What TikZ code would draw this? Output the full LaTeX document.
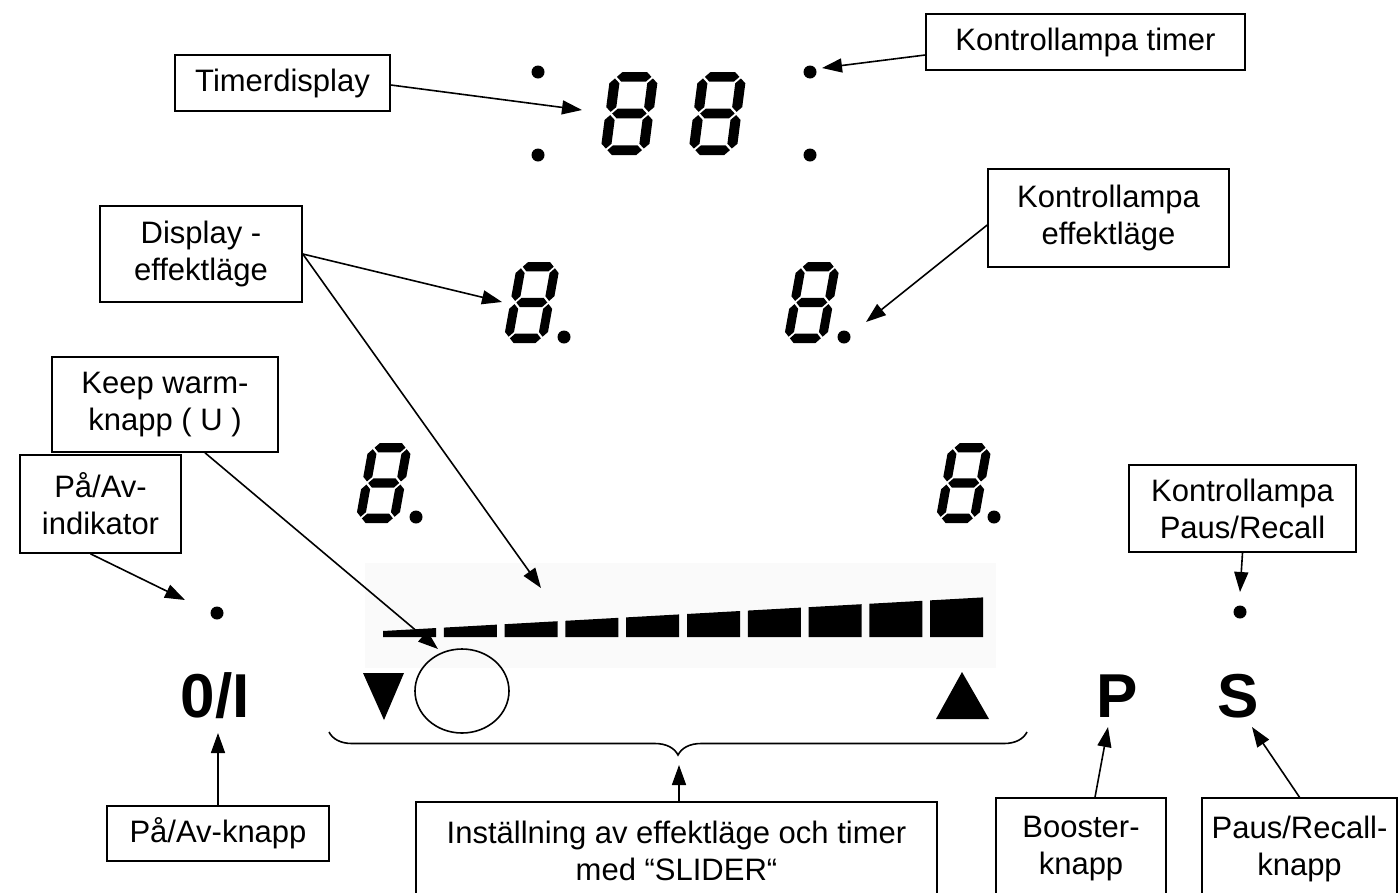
\documentclass[tikz,border=0pt]{standalone}
\usepackage{fontspec}
\setmainfont{Liberation Sans}
\usetikzlibrary{arrows.meta,decorations.pathreplacing}
\newcommand{\lblfont}{\fontsize{31}{37}\selectfont}
\newcommand{\symfont}{\fontsize{62}{62}\selectfont\bfseries}
% seven segment "8": #1 x of bottom-left, #2 y of bottom (pixels, downwards), #3 height, #4 width, #5 slant
\newcommand{\segeight}[5]{%
  \begin{scope}[shift={(#1,-#2)}, xslant=#5, xscale=#4/10, yscale=#3/18]
    \fill (1.4,16.95) -- (2.45,18) -- (7.55,18) -- (8.6,16.95) -- (7.55,15.9) -- (2.45,15.9) -- cycle
          (1.4,9) -- (2.45,10.05) -- (7.55,10.05) -- (8.6,9) -- (7.55,7.95) -- (2.45,7.95) -- cycle
          (1.4,1.05) -- (2.45,2.1) -- (7.55,2.1) -- (8.6,1.05) -- (7.55,0) -- (2.45,0) -- cycle
          (1.05,9.35) -- (2.1,10.4) -- (2.1,15.55) -- (1.05,16.6) -- (0,15.55) -- (0,10.4) -- cycle
          (1.05,1.4) -- (2.1,2.45) -- (2.1,7.6) -- (1.05,8.65) -- (0,7.6) -- (0,2.45) -- cycle
          (8.95,9.35) -- (10,10.4) -- (10,15.55) -- (8.95,16.6) -- (7.9,15.55) -- (7.9,10.4) -- cycle
          (8.95,1.4) -- (10,2.45) -- (10,7.6) -- (8.95,8.65) -- (7.9,7.6) -- (7.9,2.45) -- cycle;
  \end{scope}}
\tikzset{
  lbox/.style={draw, line width=1.6pt, align=center, font=\lblfont, inner sep=0pt},
  conn/.style={line width=1.6pt, -{Triangle[length=20pt,width=14pt]}},
  lamp/.style={circle, fill, inner sep=0pt, minimum size=13pt},
  sym/.style={font=\symfont, inner sep=0pt},
}
\begin{document}
\begin{tikzpicture}[x=1pt,y=1pt]
\clip (0,0) rectangle (1399,-892);
\fill[white] (0,0) rectangle (1399,-892);

% slider background
\fill[black!2] (365,-563) rectangle (996,-668);
\foreach \i in {0,...,9}{
  \pgfmathsetmacro{\xa}{383+\i*60.8}
  \pgfmathsetmacro{\xb}{\xa+53}
  \pgfmathsetmacro{\ya}{631-(\xa-383)/607*34}
  \pgfmathsetmacro{\yb}{631-(\xb-383)/607*34}
  \fill (\xa,-637) -- (\xb,-637) -- (\xb,-\yb) -- (\xa,-\ya) -- cycle;
}

% digits
\segeight{600}{155}{83}{48}{0.13}
\segeight{688}{155}{83}{48}{0.13}
\segeight{503}{343}{81}{43}{0.18}
\segeight{783}{343}{81}{43}{0.18}
\segeight{355}{523}{80}{43}{0.18}
\segeight{935}{523}{80}{43}{0.18}
\node[lamp] (dp1) at (564,-337) {};
\node[lamp] (dp2) at (844,-337) {};
\node[lamp] (dp3) at (416,-517) {};
\node[lamp] (dp4) at (994,-517) {};

% timer colon lamps
\node[lamp] (t1) at (538,-72) {};
\node[lamp] (t2) at (538,-155) {};
\node[lamp] (t3) at (810,-72) {};
\node[lamp] (t4) at (810,-155) {};

% other lamps
\node[lamp] (onlamp) at (217,-613) {};
\node[lamp] (pslamp) at (1240,-612) {};

% symbols
\node[sym] (onoff) at (215,-696) {0/I};
\node[sym] (pkey) at (1117,-696) {P};
\node[sym] (skey) at (1238,-696) {S};
\fill (363,-673) -- (404,-673) -- (384,-720) -- cycle;
\fill (936,-719) -- (989,-719) -- (962,-672) -- cycle;
\draw[line width=1.6pt] (462,-691) ellipse [x radius=47, y radius=42];
\coordinate (kwc) at (438,-649);

% brace
\draw[line width=1.6pt, decorate, decoration={brace, mirror, amplitude=23pt}] (329,-732) -- (1027,-732);

% label boxes
\node[lbox, minimum width=215pt, minimum height=56pt] (tdisp) at (282.5,-83) {Timerdisplay};
\node[lbox, minimum width=319pt, minimum height=56pt] (klt) at (1085.5,-42) {Kontrollampa timer};
\node[lbox, minimum width=202pt, minimum height=96pt] (disp) at (201,-254) {Display -\\effektläge};
\node[lbox, minimum width=241pt, minimum height=98pt] (keff) at (1108.5,-218) {Kontrollampa\\effektläge};
\node[lbox, minimum width=226pt, minimum height=95pt] (kw) at (165,-404.5) {Keep warm-\\knapp ( U )};
\node[lbox, minimum width=161pt, minimum height=98pt] (pai) at (100.5,-504) {På/Av-\\indikator};
\node[lbox, minimum width=227pt, minimum height=87pt] (kpr) at (1242.5,-508.5) {Kontrollampa\\Paus/Recall};
\node[lbox, minimum width=222pt, minimum height=55pt] (pak) at (218,-833.5) {På/Av-knapp};
\node[lbox, minimum width=521pt, minimum height=98pt] (inst) at (676.5,-851) {Inställning av effektläge och timer\\med “SLIDER“};
\node[lbox, minimum width=170pt, minimum height=102pt] (boost) at (1081,-849) {Booster-\\knapp};
\node[lbox, minimum width=195pt, minimum height=102pt] (prk) at (1299.5,-849) {Paus/Recall-\\knapp};

% arrow targets
\coordinate (tdtip) at (582,-110);
\coordinate (klttip) at (822,-68);
\coordinate (disptip) at (502,-302);
\coordinate (slidetip) at (541,-588);
\coordinate (kefftip) at (866,-322);
\coordinate (paitip) at (185,-600);
\coordinate (kprtip) at (1240,-592);
\coordinate (paktip) at (218,-733);
\coordinate (insttip) at (679,-765);
\coordinate (boosttip) at (1108,-727);
\coordinate (prktip) at (1252,-727);

% connectors
\draw[conn] ([yshift=-2pt]tdisp.east) -- (tdtip);
\draw[conn] ([yshift=-13pt]klt.west) -- (klttip);
\draw[conn] (disp.east) -- (disptip);
\draw[conn] (disp.east) -- (slidetip);
\draw[conn] ([yshift=-7pt]keff.west) -- (kefftip);
\draw[conn] ([xshift=40pt]kw.south) -- (kwc);
\draw[conn] ([xshift=-10pt]pai.south) -- (paitip);
\draw[conn] (kpr.south) -- (kprtip);
\draw[conn] (pak.north) -- (paktip);
\draw[conn] ([xshift=2.5pt]inst.north) -- (insttip);
\draw[conn] ([xshift=14pt]boost.north) -- (boosttip);
\draw[conn] (prk.north) -- (prktip);
\end{tikzpicture}
\end{document}
